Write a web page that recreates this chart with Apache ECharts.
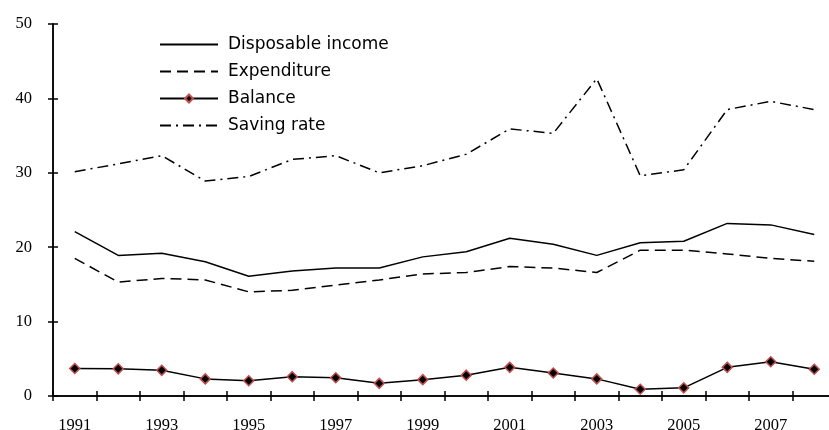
<!DOCTYPE html>
<html>
<head>
<meta charset="utf-8">
<script src="https://cdn.jsdelivr.net/npm/echarts@6/dist/echarts.min.js"></script>
<style>
html,body{margin:0;padding:0;background:#fff;}
#main{width:829px;height:430px;}
</style>
</head>
<body>
<div id="main"></div>
<script>
var years = ['1991','1992','1993','1994','1995','1996','1997','1998','1999','2000','2001','2002','2003','2004','2005','2006','2007','2008'];
var income = [22.1,18.9,19.2,18.05,16.1,16.8,17.2,17.2,18.7,19.4,21.2,20.4,18.9,20.6,20.8,23.2,23.0,21.7];
var expenditure = [18.5,15.3,15.8,15.6,14.0,14.2,14.9,15.6,16.4,16.6,17.4,17.2,16.6,19.6,19.6,19.1,18.5,18.1];
var balance = [3.7,3.65,3.45,2.3,2.05,2.6,2.45,1.7,2.2,2.8,3.85,3.1,2.3,0.9,1.1,3.85,4.6,3.6];
var savingRate = [30.15,31.2,32.3,28.9,29.5,31.8,32.3,30.0,30.95,32.5,35.9,35.3,42.65,29.6,30.4,38.5,39.6,38.5];

var serif = 'Liberation Serif';
var sans = 'DejaVu Sans';

var myChart = echarts.init(document.getElementById('main'));

// axis copies so ticks cross the axis line like in the original
function xAx(inside, show) {
	return {
		type: 'category',
		data: years,
		position: 'bottom',
		boundaryGap: true,
		axisLine: { show: true, lineStyle: { color: '#000', width: 1.5 } },
		axisTick: { show: true, inside: inside, length: 5, interval: 0, lineStyle: { color: '#000', width: 1.5 } },
		axisLabel: {
			show: show, interval: 1, margin: 21,
			color: '#000', fontFamily: serif, fontSize: 16.5
		},
		splitLine: { show: false }
	};
}
function yAx(inside, show) {
	return {
		type: 'value',
		position: 'left',
		min: 0, max: 50, interval: 10,
		axisLine: { show: true, lineStyle: { color: '#000', width: 1.5 } },
		axisTick: { show: true, inside: inside, length: 5, lineStyle: { color: '#000', width: 1.5 } },
		axisLabel: {
			show: show, margin: 21,
			color: '#000', fontFamily: serif, fontSize: 16.5
		},
		splitLine: { show: false }
	};
}

var noDot = { opacity: 0 };

var option = {
	backgroundColor: '#fff',
	animation: false,
	grid: { left: 53, top: 24, bottom: 34, right: -7, containLabel: false, outerBoundsMode: 'none' },
	legend: {
		orient: 'vertical',
		left: 154,
		top: 31,
		itemWidth: 58,
		itemHeight: 10,
		itemGap: 10,
		textStyle: { color: '#000', fontFamily: sans, fontSize: 17, lineHeight: 16, padding: [0, 0, 0, 5] },
		data: [
			{ name: 'Disposable income', itemStyle: noDot },
			{ name: 'Expenditure', itemStyle: noDot },
			{ name: 'Balance' },
			{ name: 'Saving rate', itemStyle: noDot }
		]
	},
	xAxis: [xAx(false, true), xAx(true, false)],
	yAxis: [yAx(false, true), yAx(true, false)],
	series: [{
		name: 'Disposable income',
		type: 'line',
		data: income,
		symbol: 'none',
		lineStyle: { color: '#000', width: 1.5 },
		itemStyle: { color: '#000' }
	}, {
		name: 'Expenditure',
		type: 'line',
		data: expenditure,
		symbol: 'none',
		lineStyle: { color: '#000', width: 1.5, type: [11, 6] },
		itemStyle: { color: '#000' }
	}, {
		name: 'Balance',
		type: 'line',
		data: balance,
		symbol: 'diamond',
		symbolSize: 10,
		lineStyle: { color: '#000', width: 1.5 },
		itemStyle: { color: '#000', borderColor: '#c0504d', borderWidth: 1.5 }
	}, {
		name: 'Saving rate',
		type: 'line',
		data: savingRate,
		symbol: 'none',
		lineStyle: { color: '#000', width: 1.5, type: [11, 5, 2, 5] },
		itemStyle: { color: '#000' }
	}]
};
myChart.setOption(option);
</script>
</body>
</html>
